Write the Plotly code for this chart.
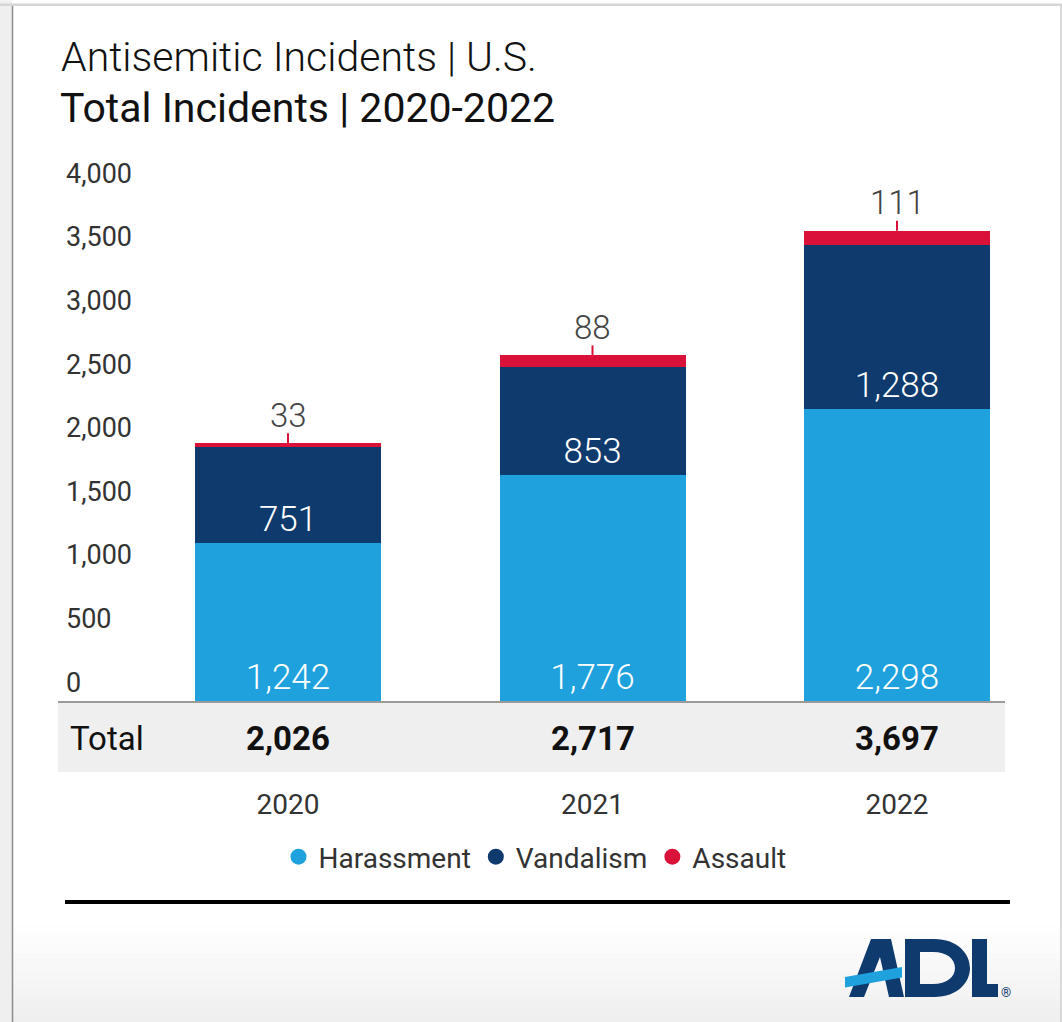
import plotly.graph_objects as go

years = ["2020", "2021", "2022"]
harassment = [1242, 1776, 2298]
vandalism = [751, 853, 1288]
assault = [33, 88, 111]
totals = [2026, 2717, 3697]
y_ticks = [0, 500, 1000, 1500, 2000, 2500, 3000, 3500, 4000]

C_HAR = "#1EA1DD"
C_VAN = "#0E3A6D"
C_ASS = "#DA1239"

W, H = 1062, 1022
L, R, B = 58, 1005, 701          # plot area edges in pixels
PX_PER_UNIT = (701 - 192) / 4000  # vertical scale
Y_MAX = 4300
T = B - Y_MAX * PX_PER_UNIT

xpos = list(range(len(years)))


def px(x):
    return (x - L) / (R - L)


def py(y):
    return (B - y) / (B - T)


fig = go.Figure()
label_font = dict(family="Roboto", size=35, color="white", weight=300)
fig.add_trace(go.Bar(x=xpos, y=harassment, name="Harassment", marker=dict(color=C_HAR, line=dict(width=0)),
                     texttemplate="%{y:,}", textposition="inside", insidetextanchor="start",
                     textfont=label_font, textangle=0, showlegend=False))
fig.add_trace(go.Bar(x=xpos, y=vandalism, name="Vandalism", marker=dict(color=C_VAN, line=dict(width=0)),
                     texttemplate="%{y:,}", textposition="inside", insidetextanchor="start",
                     textfont=label_font, textangle=0, showlegend=False))
fig.add_trace(go.Bar(x=xpos, y=assault, name="Assault", marker=dict(color=C_ASS, line=dict(width=0)),
                     textposition="none", showlegend=False))

# legend entries with circle symbols
for name, col in [("Harassment", C_HAR), ("Vandalism", C_VAN), ("Assault", C_ASS)]:
    fig.add_trace(go.Scatter(x=[None], y=[None], mode="markers", name=name,
                             marker=dict(symbol="circle", size=19, color=col)))

shapes = []
annotations = []

# background gradient near bottom
n = 14
for i in range(n):
    y0 = 925 + i * (H - 925) / n
    y1 = 925 + (i + 1) * (H - 925) / n
    g = int(255 - (255 - 239) * (i + 0.5) / n)
    shapes.append(dict(type="rect", xref="paper", yref="paper", x0=px(0), x1=px(W), y0=py(y1 + 0.5), y1=py(y0),
                       fillcolor=f"rgb({g},{g},{g})", line=dict(width=0), layer="below"))
# left strip and borders
shapes.append(dict(type="rect", xref="paper", yref="paper", x0=px(0), x1=px(12), y0=py(H), y1=py(0),
                   fillcolor="#efefef", line=dict(width=0), layer="below"))
shapes.append(dict(type="line", xref="paper", yref="paper", x0=px(12.5), x1=px(12.5), y0=py(H), y1=py(5),
                   line=dict(color="#8c8c8c", width=1.5), layer="below"))
shapes.append(dict(type="line", xref="paper", yref="paper", x0=px(0), x1=px(W), y0=py(4.5), y1=py(4.5),
                   line=dict(color="#d6d6d6", width=2.5), layer="below"))
shapes.append(dict(type="line", xref="paper", yref="paper", x0=px(1061), x1=px(1061), y0=py(H), y1=py(5),
                   line=dict(color="#cfcfcf", width=1.5), layer="below"))
# total row
shapes.append(dict(type="rect", xref="paper", yref="paper", x0=px(58), x1=px(1005), y0=py(772), y1=py(702),
                   fillcolor="#efefef", line=dict(width=0), layer="below"))
shapes.append(dict(type="line", xref="paper", yref="paper", x0=px(58), x1=px(1005), y0=py(702), y1=py(702),
                   line=dict(color="#9a9a9a", width=2), layer="above"))
# black rule
shapes.append(dict(type="line", xref="paper", yref="paper", x0=px(65), x1=px(1010), y0=py(902), y1=py(902),
                   line=dict(color="#000000", width=4), layer="above"))

# assault ticks and labels, totals
for xi, tot, a in zip(xpos, totals, assault):
    shapes.append(dict(type="line", xref="x", yref="y", ysizemode="pixel", yanchor=tot,
                       x0=xi, x1=xi, y0=0, y1=10, line=dict(color=C_ASS, width=2), layer="above"))
    annotations.append(dict(xref="x", yref="y", x=xi, y=tot, yshift=28, text=f"{a:,}", showarrow=False,
                            yanchor="middle", font=dict(family="Roboto", size=33, color="#444444", weight=300)))
    annotations.append(dict(xref="x", yref="paper", x=xi, y=py(739), text=f"<b>{tot:,}</b>", showarrow=False,
                            yanchor="middle", font=dict(family="Roboto", size=33, color="#111111")))

annotations.append(dict(xref="paper", yref="paper", x=px(68), y=py(739), text="Total", showarrow=False,
                        xanchor="left", yanchor="middle", font=dict(family="Roboto", size=33, color="#111111")))

# titles
annotations.append(dict(xref="paper", yref="paper", x=px(59), y=py(57), text="Antisemitic Incidents | U.S.",
                        showarrow=False, xanchor="left", yanchor="middle",
                        font=dict(family="Roboto", size=41, color="#111111", weight=300)))
annotations.append(dict(xref="paper", yref="paper", x=px(58), y=py(108), text="Total Incidents | 2020-2022",
                        showarrow=False, xanchor="left", yanchor="middle",
                        font=dict(family="Roboto", size=41, color="#111111", weight=400)))


# ADL logo drawn as shapes
def path(points):
    s = ""
    for i, (x, y) in enumerate(points):
        s += ("M" if i == 0 else "L") + f"{px(x):.5f},{py(y):.5f}"
    return s + "Z"


def cpath(cmds):
    s = ""
    for c, pts in cmds:
        s += c + " ".join(f"{px(x):.5f},{py(y):.5f}" for x, y in pts)
    return s


shapes.append(dict(type="path", xref="paper", yref="paper",
                   path=path([(849, 997), (871, 939), (891, 939), (904, 997), (889, 997), (880, 957), (864, 997)]),
                   fillcolor=C_VAN, line=dict(width=0), layer="above"))
d_outer = cpath([("M", [(905, 939)]), ("L", [(934, 939)]),
                 ("C", [(958, 939), (970, 954), (970, 968)]),
                 ("C", [(970, 982), (958, 997), (934, 997)]),
                 ("L", [(905, 997)]), ("Z", [])])
d_inner = cpath([("M", [(920, 952)]), ("L", [(920, 984)]), ("L", [(933, 984)]),
                 ("C", [(947, 984), (955, 977), (955, 968)]),
                 ("C", [(955, 959), (947, 952), (933, 952)]), ("Z", [])])
shapes.append(dict(type="path", xref="paper", yref="paper", path=d_outer + d_inner, fillrule="evenodd",
                   fillcolor=C_VAN, line=dict(width=0), layer="above"))
shapes.append(dict(type="path", xref="paper", yref="paper",
                   path=path([(972, 939), (987, 939), (987, 984), (998, 984), (998, 997), (972, 997)]),
                   fillcolor=C_VAN, line=dict(width=0), layer="above"))
shapes.append(dict(type="path", xref="paper", yref="paper",
                   path=path([(845, 977), (902, 967), (902, 977.5), (845, 987.5)]),
                   fillcolor=C_HAR, line=dict(width=0), layer="above"))
annotations.append(dict(xref="paper", yref="paper", x=px(1006), y=py(993), text="®", showarrow=False,
                        xanchor="center", yanchor="middle", font=dict(family="Roboto", size=13, color=C_VAN)))

fig.update_layout(
    width=W, height=H,
    margin=dict(l=L, r=W - R, t=T, b=H - B, pad=0),
    paper_bgcolor="white", plot_bgcolor="rgba(0,0,0,0)",
    barmode="stack", bargap=1 - 186 / 304.5,
    showlegend=True,
    legend=dict(orientation="h", x=px(535), xanchor="center", y=py(857), yanchor="middle",
                traceorder="normal",
                font=dict(family="Roboto", size=28, color="#333333"), itemclick=False,
                bgcolor="rgba(0,0,0,0)", itemwidth=30, tracegroupgap=0),
    shapes=shapes, annotations=annotations,
    xaxis=dict(range=[-(288 - L) / 304.5, 2 + (R - 897) / 304.5], tickvals=xpos, ticktext=years,
               showgrid=False, showline=False, zeroline=False, ticks="",
               tickfont=dict(family="Roboto", size=28, color="#333333"), ticklabelstandoff=84),
    yaxis=dict(range=[0, Y_MAX], tickvals=y_ticks, tickformat=",", showgrid=False, showline=False,
               zeroline=False, ticks="", ticklabelposition="inside top", ticklabelstandoff=5,
               tickfont=dict(family="Roboto", size=27, color="#333333")),
    font=dict(family="Roboto"),
)

fig.write_html("out.html")
